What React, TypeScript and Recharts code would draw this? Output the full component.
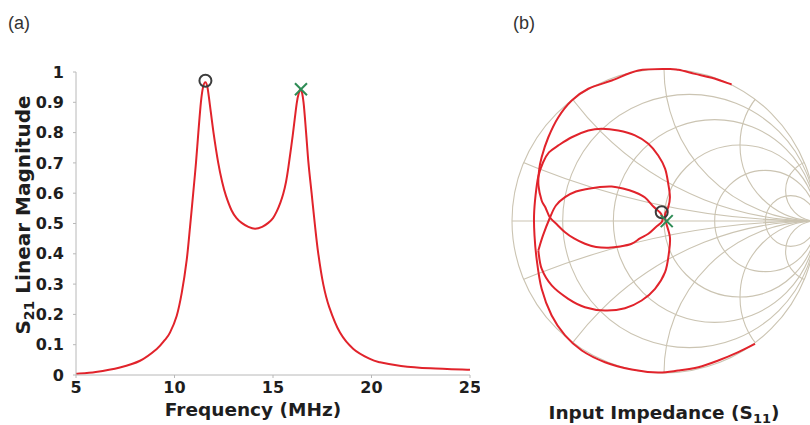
import React from "react";
import { ComposedChart, Line, Scatter, XAxis, YAxis } from "recharts";

// S21 magnitude sweep
const freqMHz = [
  5, 6, 7.23, 8.25, 9.1, 9.5, 9.77, 10.11, 10.37, 10.62, 10.79, 10.95, 11.09, 11.21, 11.34,
  11.45, 11.57, 11.67, 11.78, 11.98, 12.22, 12.42, 12.61, 12.9, 13.15, 13.41, 13.75, 14.09,
  14.45, 14.76, 15.0, 15.19, 15.38, 15.52, 15.66, 15.78, 16.0, 16.2, 16.3, 16.42, 16.55,
  16.68, 16.8, 16.96, 17.12, 17.3, 17.55, 17.85, 18.4, 19.08, 19.92, 20.43, 21.5, 23, 25,
];
const s21Mag = [
  0.004, 0.01, 0.025, 0.047, 0.086, 0.115, 0.14, 0.195, 0.272, 0.38, 0.49, 0.6, 0.7, 0.8,
  0.9, 0.95, 0.966, 0.95, 0.9, 0.8, 0.7, 0.637, 0.592, 0.543, 0.518, 0.502, 0.489, 0.483,
  0.489, 0.502, 0.518, 0.54, 0.57, 0.598, 0.637, 0.685, 0.79, 0.895, 0.928, 0.942, 0.9,
  0.8, 0.7, 0.6, 0.5, 0.4, 0.3, 0.225, 0.14, 0.086, 0.053, 0.042, 0.03, 0.022, 0.017,
];

// resonance markers (first peak = ring, second peak = cross)
const peakFreq = [11.57, 16.42];
const peakMag = [0.971, 0.943];

const freqTicks = [5, 10, 15, 20, 25];
const magTicks = [0, 0.1, 0.2, 0.3, 0.4, 0.5, 0.6, 0.7, 0.8, 0.9, 1];

// S11 trace, reflection coefficient (re, im), split where the trace turns sharply.
// outer sweep from the lower edge, up the left side, around the large loop
const loopRe = [
  0.599, 0.489, 0.357, 0.226, 0.094, -0.039, -0.213, -0.388, -0.541, -0.651, -0.739, -0.805,
  -0.838, -0.852, -0.855, -0.845, -0.827, -0.796, -0.757, -0.695, -0.607, -0.498, -0.41,
  -0.301, -0.191, -0.103, -0.038, 0.007, 0.028, 0.039, 0.028, 0.007, 0.013, 0.039, 0.033,
  0.007, -0.059, -0.147, -0.257, -0.388, -0.52, -0.63, -0.739, -0.805, -0.827,
];
const loopIm = [
  -0.808, -0.863, -0.918, -0.962, -0.984, -0.997, -0.977, -0.929, -0.852, -0.753, -0.622,
  -0.446, -0.249, -0.095, 0.036, 0.168, 0.293, 0.385, 0.451, 0.497, 0.551, 0.595, 0.607,
  0.595, 0.563, 0.508, 0.431, 0.345, 0.245, 0.157, 0.091, 0.043, -0.008, -0.107, -0.205,
  -0.337, -0.446, -0.523, -0.574, -0.589, -0.567, -0.512, -0.424, -0.314, -0.194,
];
// inner loop, upper half
const innerTopRe = [
  -0.827, -0.796, -0.75, -0.711, -0.651, -0.579, -0.498, -0.421, -0.344, -0.27, -0.191,
  -0.125, -0.07, -0.026, -0.007,
];
const innerTopIm = [
  -0.194, -0.095, 0.023, 0.102, 0.157, 0.194, 0.212, 0.224, 0.227, 0.214, 0.189, 0.155,
  0.095, 0.056, 0.023,
];
// inner loop, lower half, then out along the upper edge
const innerBotRe = [
  -0.007, -0.015, -0.053, -0.103, -0.158, -0.213, -0.289, -0.366, -0.447, -0.52, -0.592,
  -0.651, -0.704, -0.75, -0.78, -0.805, -0.826, -0.822, -0.805, -0.761, -0.695, -0.607,
  -0.498, -0.344, -0.169, 0.028, 0.094, 0.204, 0.314, 0.445,
];
const innerBotIm = [
  0.023, -0.008, -0.039, -0.084, -0.115, -0.15, -0.168, -0.176, -0.171, -0.15, -0.115,
  -0.074, -0.023, 0.023, 0.089, 0.135, 0.234, 0.332, 0.42, 0.551, 0.683, 0.793, 0.87,
  0.924, 0.99, 1.0, 0.995, 0.968, 0.942, 0.898,
];
const s11MarkRe = [-0.015, 0.018];
const s11MarkIm = [0.058, -0.001];

// Smith chart grid values
const smithR = [0.2, 0.5, 1, 2, 5];
const smithX = [0.2, 0.5, 1, 2, 5];

const s21Data = freqMHz.map((f, i) => ({ f, mag: s21Mag[i] }));
const toPts = (re: number[], im: number[]) => re.map((r, i) => ({ re: r, im: im[i] }));
const loopData = toPts(loopRe, loopIm);
const innerTopData = toPts(innerTopRe, innerTopIm);
const innerBotData = toPts(innerBotRe, innerBotIm);

const RED = "#e1232b";
const GRID = "#cbc4b2";
const AXIS = "#b8b8b8";
const TEXT = "#1e1e1e";
const FONT = "'DejaVu Sans', sans-serif";

const tickStyle = { fill: TEXT, fontSize: 16, fontWeight: 700, fontFamily: FONT };

// Catmull-Rom through the points (smooth, passes through every sample)
function catmullRom(context: any) {
  let pts: number[][] = [];
  return {
    areaStart() {},
    areaEnd() {},
    lineStart() {
      pts = [];
    },
    point(x: number, y: number) {
      pts.push([+x, +y]);
    },
    lineEnd() {
      if (!pts.length) return;
      context.moveTo(pts[0][0], pts[0][1]);
      for (let i = 0; i < pts.length - 1; i++) {
        const p0 = pts[i - 1] || pts[i];
        const p1 = pts[i];
        const p2 = pts[i + 1];
        const p3 = pts[i + 2] || p2;
        context.bezierCurveTo(
          p1[0] + (p2[0] - p0[0]) / 6,
          p1[1] + (p2[1] - p0[1]) / 6,
          p2[0] - (p3[0] - p1[0]) / 6,
          p2[1] - (p3[1] - p1[1]) / 6,
          p2[0],
          p2[1]
        );
      }
    },
  };
}

const Ring = (p: any) => (
  <circle cx={p.cx} cy={p.cy} r={6} fill="none" stroke="#3c3c3c" strokeWidth={2} />
);

const Cross = (p: any) => (
  <g stroke="#2e8c56" strokeWidth={2}>
    <line x1={p.cx - 6} y1={p.cy - 6} x2={p.cx + 6} y2={p.cy + 6} />
    <line x1={p.cx - 6} y1={p.cy + 6} x2={p.cx + 6} y2={p.cy - 6} />
  </g>
);

// Smith chart: 1 unit of reflection coefficient = 152 px
const SMITH_R = 152;
const SMITH_BOX = 320;
const SPAN = SMITH_BOX / 2 / SMITH_R;

function SmithGrid() {
  const c = SMITH_BOX / 2;
  const R = SMITH_R;
  return (
    <svg width={SMITH_BOX} height={SMITH_BOX} style={{ position: "absolute", left: 0, top: 0 }}>
      <defs>
        <clipPath id="unitDisk">
          <circle cx={c} cy={c} r={R} />
        </clipPath>
      </defs>
      <g fill="none" stroke={GRID} strokeWidth={1.1}>
        <circle cx={c} cy={c} r={R} />
        <line x1={c - R} y1={c} x2={c + R} y2={c} />
        {smithR.map((r) => (
          <circle key={"r" + r} cx={c + (R * r) / (1 + r)} cy={c} r={R / (1 + r)} />
        ))}
        <g clipPath="url(#unitDisk)">
          {smithX.map((x) =>
            [1, -1].map((s) => (
              <circle key={"x" + x + s} cx={c + R} cy={c - (s * R) / x} r={R / x} />
            ))
          )}
        </g>
      </g>
    </svg>
  );
}

const s11Line = (data: { re: number; im: number }[], key: string) => (
  <Line
    key={key}
    data={data}
    dataKey="im"
    type={catmullRom as any}
    stroke={RED}
    strokeWidth={2}
    dot={false}
    isAnimationActive={false}
  />
);

export default function App() {
  return (
    <div
      style={{
        position: "absolute",
        left: 0,
        top: 0,
        width: 810,
        height: 425,
        overflow: "hidden",
        background: "#fff",
      }}
    >
      {/* (a) S21 magnitude vs frequency */}
      <div style={{ position: "absolute", left: 0, top: 0 }}>
        <ComposedChart
          width={480}
          height={425}
          data={s21Data}
          margin={{ top: 72, right: 10, bottom: 10, left: 10 }}
        >
          <XAxis
            dataKey="f"
            type="number"
            domain={[5, 25]}
            ticks={freqTicks}
            height={40}
            axisLine={{ stroke: AXIS }}
            tickLine={{ stroke: AXIS }}
            tickSize={3}
            tickMargin={4}
            tick={tickStyle}
          />
          <YAxis
            type="number"
            domain={[0, 1]}
            ticks={magTicks}
            width={66}
            axisLine={{ stroke: AXIS }}
            tickLine={{ stroke: AXIS }}
            tickSize={3}
            tickMargin={9}
            tick={tickStyle}
          />
          <Line
            dataKey="mag"
            type={catmullRom as any}
            stroke={RED}
            strokeWidth={2}
            dot={false}
            isAnimationActive={false}
          />
          <Scatter
            data={[{ f: peakFreq[0], mag: peakMag[0] }]}
            dataKey="mag"
            shape={Ring}
            isAnimationActive={false}
          />
          <Scatter
            data={[{ f: peakFreq[1], mag: peakMag[1] }]}
            dataKey="mag"
            shape={Cross}
            isAnimationActive={false}
          />
        </ComposedChart>
      </div>

      {/* (b) S11 on Smith chart */}
      <div style={{ position: "absolute", left: 664 - SMITH_BOX / 2, top: 220.5 - SMITH_BOX / 2 }}>
        <SmithGrid />
        <div style={{ position: "absolute", left: 0, top: 0 }}>
          <ComposedChart
            width={SMITH_BOX}
            height={SMITH_BOX}
            margin={{ top: 0, right: 0, bottom: 0, left: 0 }}
          >
            <XAxis dataKey="re" type="number" domain={[-SPAN, SPAN]} hide allowDataOverflow />
            <YAxis type="number" domain={[-SPAN, SPAN]} hide allowDataOverflow />
            {s11Line(loopData, "loop")}
            {s11Line(innerTopData, "innerTop")}
            {s11Line(innerBotData, "innerBot")}
            <Scatter
              data={[{ re: s11MarkRe[0], im: s11MarkIm[0] }]}
              dataKey="im"
              shape={Ring}
              isAnimationActive={false}
            />
            <Scatter
              data={[{ re: s11MarkRe[1], im: s11MarkIm[1] }]}
              dataKey="im"
              shape={Cross}
              isAnimationActive={false}
            />
          </ComposedChart>
        </div>
      </div>

      {/* panel letters and titles */}
      <svg
        width={810}
        height={425}
        style={{ position: "absolute", left: 0, top: 0, pointerEvents: "none" }}
      >
        <g fill="#333" fontFamily="'Liberation Sans Narrow', 'Liberation Sans', sans-serif" fontSize={18}>
          <text x={8} y={29}>(a)</text>
          <text x={513} y={29}>(b)</text>
        </g>
        <g fill={TEXT} fontFamily={FONT} fontWeight={700} fontSize={18.5}>
          <text x={253} y={416} textAnchor="middle">Frequency (MHz)</text>
          <text x={664} y={419} textAnchor="middle">
            Input Impedance (S<tspan fontSize={13} dy={4}>11</tspan>
            <tspan dy={-4}>)</tspan>
          </text>
          <text transform="translate(30,215) rotate(-90)" textAnchor="middle" fontSize={20}>
            S<tspan fontSize={14} dy={4}>21</tspan>
            <tspan dy={-4}> Linear Magnitude</tspan>
          </text>
        </g>
      </svg>
    </div>
  );
}
